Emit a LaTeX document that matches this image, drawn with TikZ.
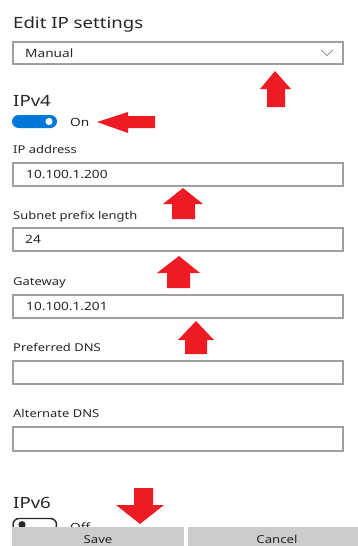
\documentclass[tikz,border=0pt]{standalone}
\usepackage{fontspec}
\setmainfont{Noto Sans}[FakeStretch=1.2]
\definecolor{arrowred}{HTML}{ED1C24}
\definecolor{togblue}{HTML}{0078D7}
\definecolor{boxgray}{HTML}{A0A0A0}
\definecolor{btngray}{HTML}{CCCCCC}
\begin{document}
\begin{tikzpicture}[x=1pt,y=-1pt,
  field/.style={draw=boxgray,line width=1.4pt,fill=white},
  title/.style={anchor=base west,inner sep=0pt,font=\fontsize{15.5}{18}\selectfont,text=black!85},
  lbl/.style={anchor=base west,inner sep=0pt,font=\fontsize{10.8}{12}\selectfont,text=black!85},
  val/.style={anchor=base west,inner sep=0pt,font=\fontsize{11.4}{13}\selectfont,text=black!85},
  btntext/.style={anchor=base,inner sep=0pt,font=\fontsize{11}{13}\selectfont,text=black!85},
  redarrow/.style={fill=arrowred,draw=none}]
\useasboundingbox[fill=white] (0,0) rectangle (358,546);

% title
\node[title] (title) at (13,28) {Edit IP settings};
% dropdown
\draw[field] (13,42) rectangle (343,64);
\node[val] (manual) at (25,57) {Manual};
\draw[boxgray!80!black,line width=0.7pt] (321,50) -- (327,55.5) -- (333,50);
% arrow 1
\fill[redarrow] (275,71) -- (291,89) -- (285,89) -- (285,107) -- (267,107) -- (267,89) -- (260,89) -- cycle;

% IPv4
\node[title] (ipv4) at (13,106) {IPv4};
\fill[togblue,rounded corners=6.5pt] (12,115) rectangle (57,128);
\fill[white] (49,121.5) circle[radius=3.6];
\node[val] (on) at (70,126) {On};
\fill[redarrow] (97,122) -- (128,112) -- (128,116) -- (155,116) -- (155,128) -- (128,128) -- (128,133) -- cycle;

% IP address
\node[lbl] (l1) at (13,153) {IP address};
\draw[field] (13,163) rectangle (343,186);
\node[val] (v1) at (26,178) {10.100.1.200};
\fill[redarrow] (183,188) -- (203,204) -- (195,204) -- (195,219) -- (172,219) -- (172,204) -- (163,204) -- cycle;

% Subnet
\node[lbl] (l2) at (13,219.5) {Subnet prefix length};
\draw[field] (13,228) rectangle (343,251);
\node[val] (v2) at (25,243) {24};
\fill[redarrow] (179,256) -- (200,273) -- (190,273) -- (190,288) -- (167,288) -- (167,273) -- (157,273) -- cycle;

% Gateway
\node[lbl] (l3) at (13,285) {Gateway};
\draw[field] (13,295) rectangle (343,318);
\node[val] (v3) at (26,310) {10.100.1.201};
\fill[redarrow] (196,321) -- (214,340) -- (207,340) -- (207,354) -- (185,354) -- (185,340) -- (178,340) -- cycle;

% Preferred DNS
\node[lbl] (l4) at (13,351.5) {Preferred DNS};
\draw[field] (13,361) rectangle (343,384);

% Alternate DNS
\node[lbl] (l5) at (13,417) {Alternate DNS};
\draw[field] (13,427) rectangle (343,451);

% IPv6
\node[title] (ipv6) at (13,508) {IPv6};
\draw[black!85,line width=1.4pt,rounded corners=6pt] (13,518.5) rectangle (56.5,531);
\fill[black!85] (22,524.7) circle[radius=3.6];
\node[val] (off) at (70,531) {Off};
\fill[redarrow] (140,524) -- (164,505) -- (153,505) -- (153,488) -- (134,488) -- (134,505) -- (116,505) -- cycle;

% buttons
\fill[btngray] (12,527) rectangle (184,546);
\fill[btngray] (188,527) rectangle (358,546);
\node[btntext] (save) at (98,543) {Save};
\node[btntext] (cancel) at (277,543) {Cancel};
\end{tikzpicture}
\end{document}
